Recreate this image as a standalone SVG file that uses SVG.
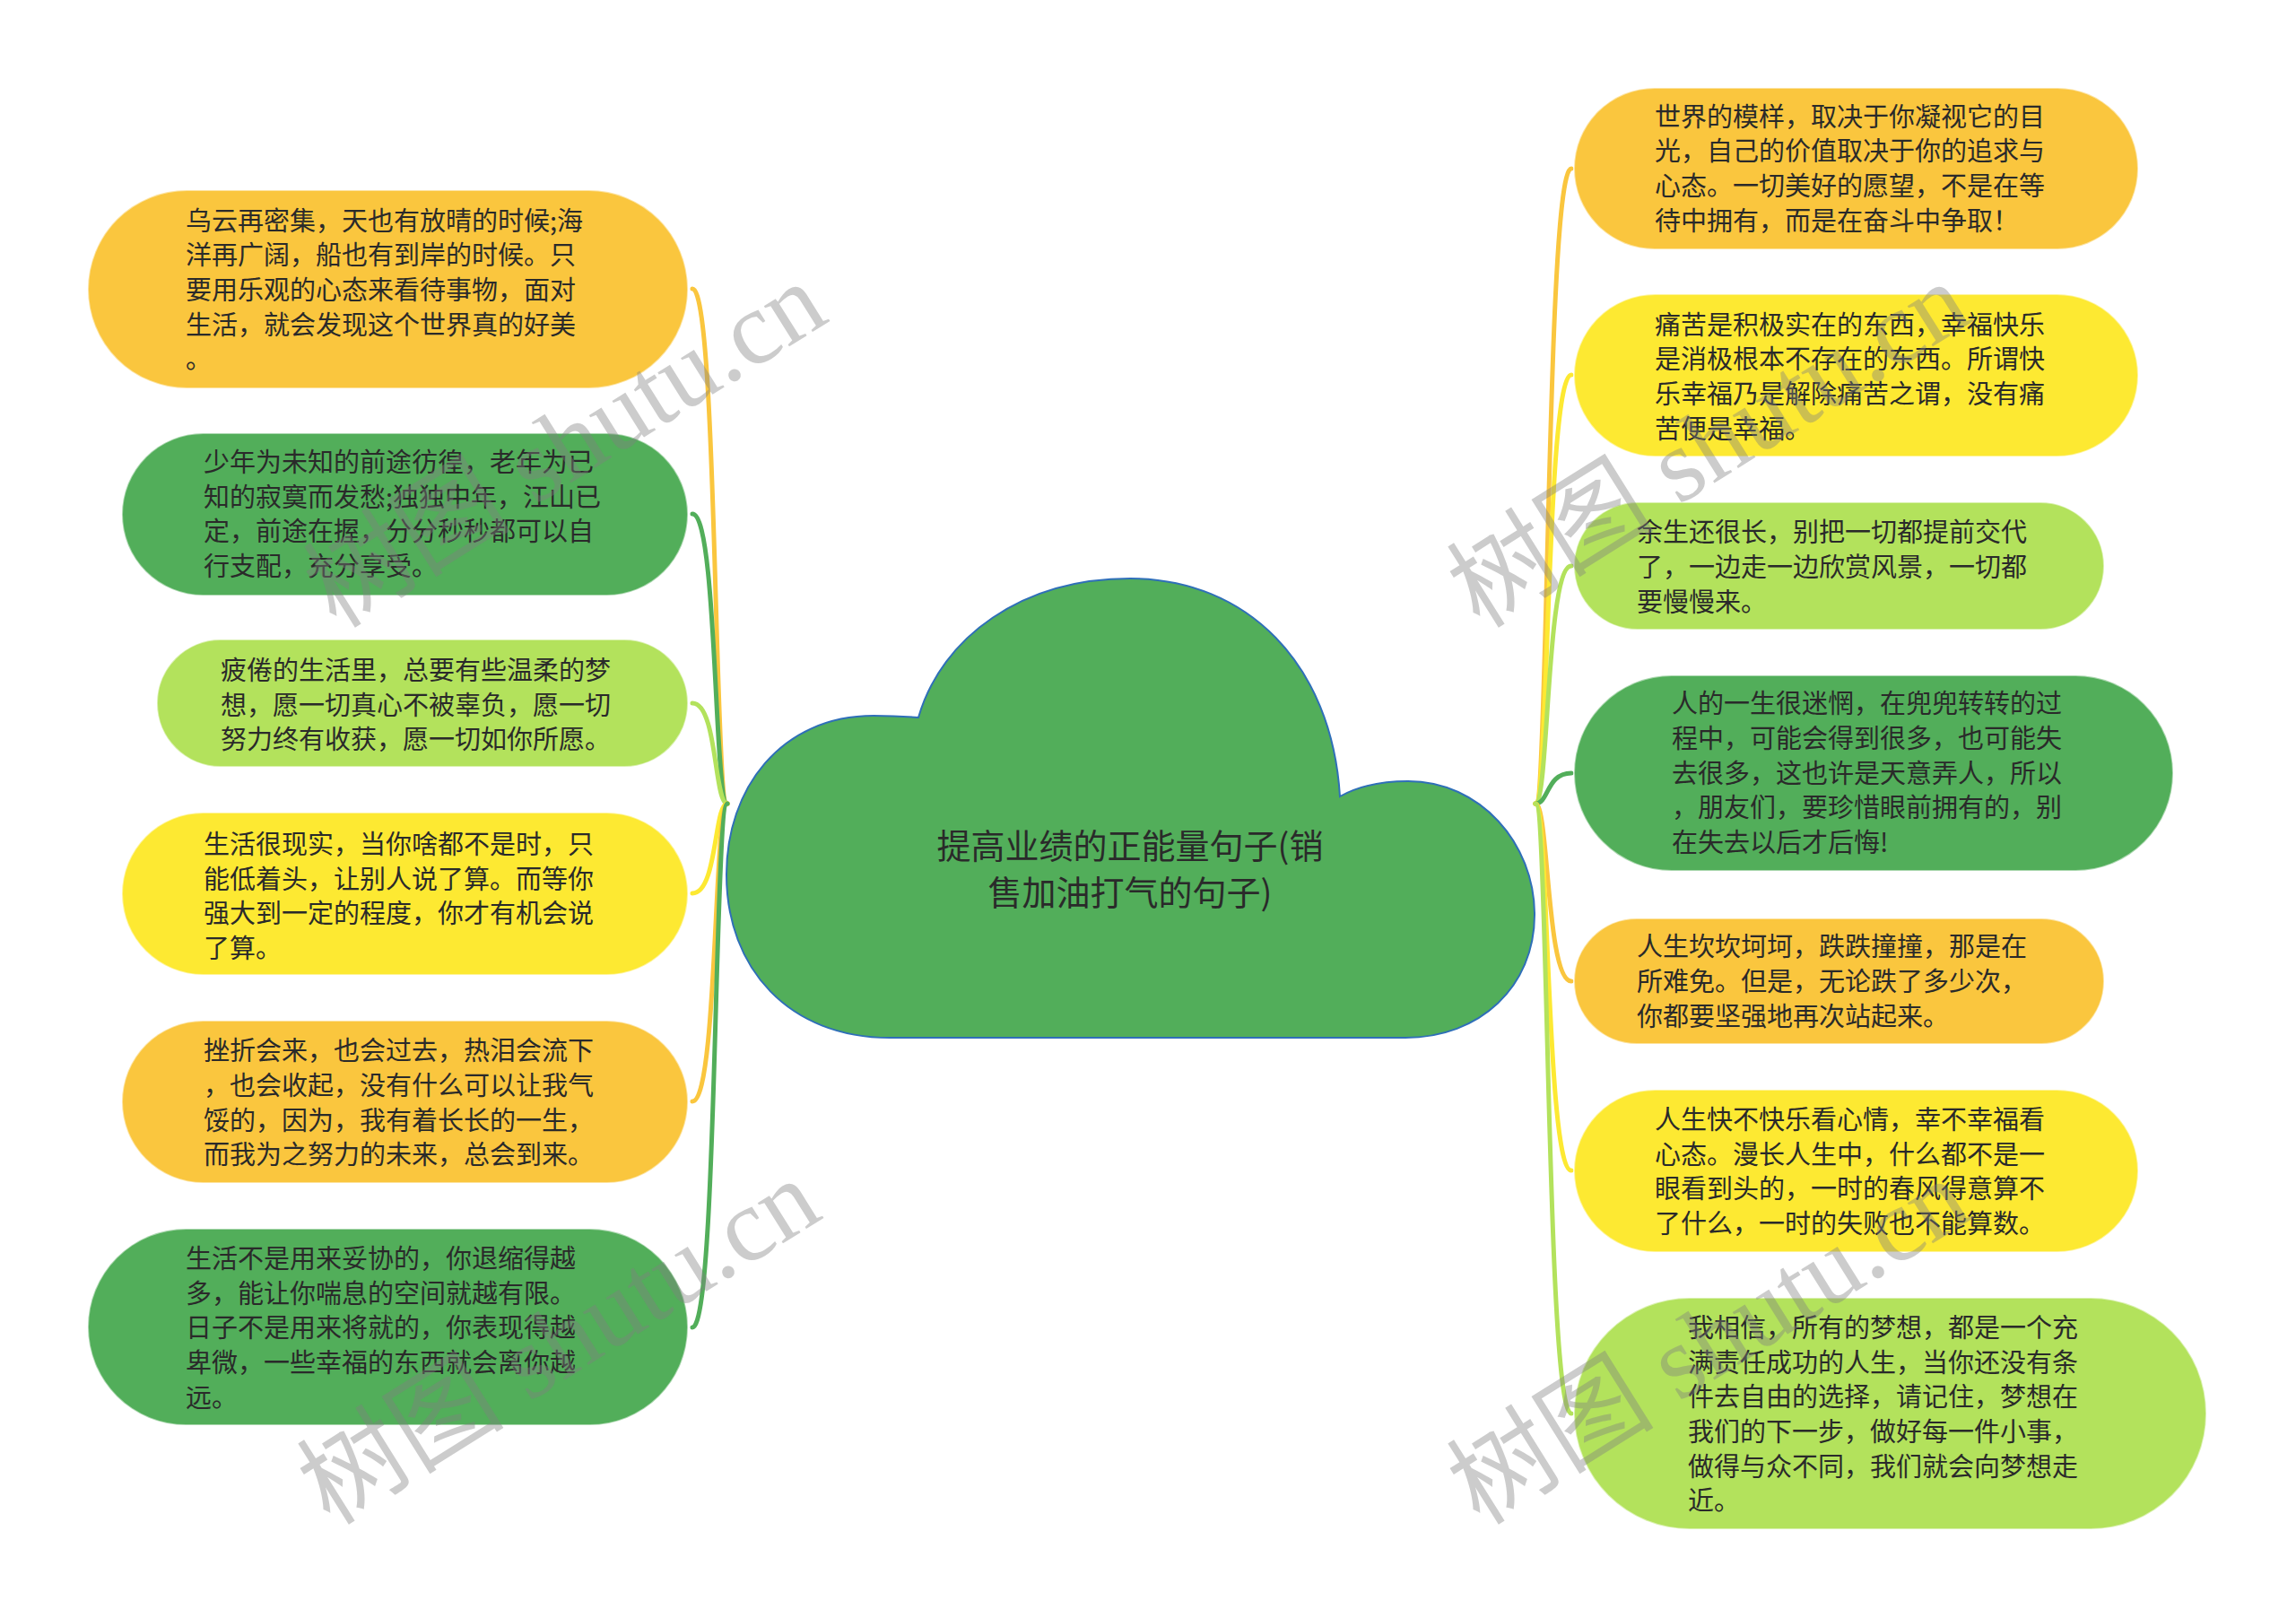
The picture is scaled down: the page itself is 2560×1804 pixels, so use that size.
<svg xmlns="http://www.w3.org/2000/svg" width="2560" height="1804" viewBox="0 0 2560 1804">
<style>
.t{font-family:"Noto Sans CJK SC","Noto Sans",sans-serif;font-size:29px;fill:#2a2a2a}
.ct{font-family:"Noto Sans CJK SC","Noto Sans",sans-serif;font-size:38px;fill:#2a2a2a;text-anchor:middle}
.or{fill:#FAC63E}
.ye{fill:#FDE932}
.lg{fill:#B3E25C}
.dg{fill:#52AE5A}
.node rect{stroke:#ffffff;stroke-opacity:0.5;stroke-width:2}
.c{fill:none;stroke-width:5;stroke-linecap:round}
.wm{font-size:116px;fill:#808080;fill-opacity:0.4}
.wm1{font-family:"Noto Sans CJK SC",sans-serif}
.wm2{font-family:"Liberation Serif",serif}
</style>
<rect width="2560" height="1804" fill="#ffffff"/>

<g id="connectors">
<path class="c" stroke="#FAC63E" d="M811 896 C796 896 800 322 772 322"/>
<path class="c" stroke="#52AE5A" d="M811 896 C796 896 800 573 772 573"/>
<path class="c" stroke="#B3E25C" d="M811 896 C796 896 800 784 772 784"/>
<path class="c" stroke="#FDE932" d="M811 896 C796 896 800 996 772 996"/>
<path class="c" stroke="#FAC63E" d="M811 896 C796 896 800 1228 772 1228"/>
<path class="c" stroke="#52AE5A" d="M811 896 C796 896 800 1480 772 1480"/>

<path class="c" stroke="#FAC63E" d="M1712 896 C1727 896 1724 188 1752 188"/>
<path class="c" stroke="#FDE932" d="M1712 896 C1727 896 1724 418 1752 418"/>
<path class="c" stroke="#B3E25C" d="M1712 896 C1727 896 1724 631 1752 631"/>
<path class="c" stroke="#52AE5A" d="M1712 896 C1727 896 1724 862 1752 862"/>
<path class="c" stroke="#FAC63E" d="M1712 896 C1727 896 1724 1094 1752 1094"/>
<path class="c" stroke="#FDE932" d="M1712 896 C1727 896 1724 1305 1752 1305"/>
<path class="c" stroke="#B3E25C" d="M1712 896 C1727 896 1724 1576 1752 1576"/>
</g>

<g id="center">
<path d="M1024 800 C1050 710 1140 645 1260 645 C1390 645 1485 740 1494 888 C1515 876 1540 871 1570 871 C1650 871 1711 940 1711 1020 C1711 1100 1650 1157 1567 1157 L992 1157 C880 1157 810 1080 810 975 C810 880 870 798 974 798 C995 798 1012 799 1024 800 Z" fill="#52AE5A" stroke="#2F6FB8" stroke-width="2"/>
<text class="ct" x="1260" y="957">提高业绩的正能量句子(销</text>
<text class="ct" x="1260" y="1009">售加油打气的句子)</text>
</g>

<g id="L1" class="node">
<rect class="or" x="98" y="212" width="669" height="221" rx="110.5"/>
<text class="t" x="207" y="256.5">乌云再密集，天也有放晴的时候;海</text>
<text class="t" x="207" y="295.2">洋再广阔，船也有到岸的时候。只</text>
<text class="t" x="207" y="333.9">要用乐观的心态来看待事物，面对</text>
<text class="t" x="207" y="372.6">生活，就会发现这个世界真的好美</text>
<text class="t" x="207" y="411.3">。</text>
</g>
<g id="L2" class="node">
<rect class="dg" x="136" y="483" width="631" height="181" rx="90.5"/>
<text class="t" x="227" y="526">少年为未知的前途彷徨，老年为已</text>
<text class="t" x="227" y="564.7">知的寂寞而发愁;独独中年，江山已</text>
<text class="t" x="227" y="603.4">定，前途在握，分分秒秒都可以自</text>
<text class="t" x="227" y="642.1">行支配，充分享受。</text>
</g>
<g id="L3" class="node">
<rect class="lg" x="175" y="713" width="592" height="142" rx="71"/>
<text class="t" x="246" y="757.8">疲倦的生活里，总要有些温柔的梦</text>
<text class="t" x="246" y="796.5">想，愿一切真心不被辜负，愿一切</text>
<text class="t" x="246" y="835.2">努力终有收获，愿一切如你所愿。</text>
</g>
<g id="L4" class="node">
<rect class="ye" x="136" y="906" width="631" height="181" rx="90.5"/>
<text class="t" x="227" y="952">生活很现实，当你啥都不是时，只</text>
<text class="t" x="227" y="990.7">能低着头，让别人说了算。而等你</text>
<text class="t" x="227" y="1029.4">强大到一定的程度，你才有机会说</text>
<text class="t" x="227" y="1068.1">了算。</text>
</g>
<g id="L5" class="node">
<rect class="or" x="136" y="1138" width="631" height="181" rx="90.5"/>
<text class="t" x="227" y="1182.3">挫折会来，也会过去，热泪会流下</text>
<text class="t" x="227" y="1221">，也会收起，没有什么可以让我气</text>
<text class="t" x="227" y="1259.7">馁的，因为，我有着长长的一生，</text>
<text class="t" x="227" y="1298.4">而我为之努力的未来，总会到来。</text>
</g>
<g id="L6" class="node">
<rect class="dg" x="98" y="1370" width="669" height="219" rx="109.5"/>
<text class="t" x="207" y="1414">生活不是用来妥协的，你退缩得越</text>
<text class="t" x="207" y="1452.7">多，能让你喘息的空间就越有限。</text>
<text class="t" x="207" y="1491.4">日子不是用来将就的，你表现得越</text>
<text class="t" x="207" y="1530.1">卑微，一些幸福的东西就会离你越</text>
<text class="t" x="207" y="1568.8">远。</text>
</g>

<g id="R1" class="node">
<rect class="or" x="1755" y="98" width="629" height="180" rx="90"/>
<text class="t" x="1845" y="140.6">世界的模样，取决于你凝视它的目</text>
<text class="t" x="1845" y="179.3">光，自己的价值取决于你的追求与</text>
<text class="t" x="1845" y="218">心态。一切美好的愿望，不是在等</text>
<text class="t" x="1845" y="256.7">待中拥有，而是在奋斗中争取！</text>
</g>
<g id="R2" class="node">
<rect class="ye" x="1755" y="328" width="629" height="181" rx="90.5"/>
<text class="t" x="1845" y="372.5">痛苦是积极实在的东西，幸福快乐</text>
<text class="t" x="1845" y="411.2">是消极根本不存在的东西。所谓快</text>
<text class="t" x="1845" y="449.9">乐幸福乃是解除痛苦之谓，没有痛</text>
<text class="t" x="1845" y="488.6">苦便是幸福。</text>
</g>
<g id="R3" class="node">
<rect class="lg" x="1755" y="560" width="591" height="142" rx="71"/>
<text class="t" x="1825" y="604.3">余生还很长，别把一切都提前交代</text>
<text class="t" x="1825" y="643">了，一边走一边欣赏风景，一切都</text>
<text class="t" x="1825" y="681.7">要慢慢来。</text>
</g>
<g id="R4" class="node">
<rect class="dg" x="1755" y="753" width="668" height="218" rx="109"/>
<text class="t" x="1864" y="795.3">人的一生很迷惘，在兜兜转转的过</text>
<text class="t" x="1864" y="834">程中，可能会得到很多，也可能失</text>
<text class="t" x="1864" y="872.7">去很多，这也许是天意弄人，所以</text>
<text class="t" x="1864" y="911.4">，朋友们，要珍惜眼前拥有的，别</text>
<text class="t" x="1864" y="950.1">在失去以后才后悔!</text>
</g>
<g id="R5" class="node">
<rect class="or" x="1755" y="1024" width="591" height="140" rx="70"/>
<text class="t" x="1825" y="1066.4">人生坎坎坷坷，跌跌撞撞，那是在</text>
<text class="t" x="1825" y="1105.1">所难免。但是，无论跌了多少次，</text>
<text class="t" x="1825" y="1143.8">你都要坚强地再次站起来。</text>
</g>
<g id="R6" class="node">
<rect class="ye" x="1755" y="1215" width="629" height="181" rx="90.5"/>
<text class="t" x="1845" y="1259">人生快不快乐看心情，幸不幸福看</text>
<text class="t" x="1845" y="1297.7">心态。漫长人生中，什么都不是一</text>
<text class="t" x="1845" y="1336.4">眼看到头的，一时的春风得意算不</text>
<text class="t" x="1845" y="1375.1">了什么，一时的失败也不能算数。</text>
</g>
<g id="R7" class="node">
<rect class="lg" x="1755" y="1447" width="705" height="258" rx="129"/>
<text class="t" x="1882" y="1490.9">我相信，所有的梦想，都是一个充</text>
<text class="t" x="1882" y="1529.6">满责任成功的人生，当你还没有条</text>
<text class="t" x="1882" y="1568.3">件去自由的选择，请记住，梦想在</text>
<text class="t" x="1882" y="1607">我们的下一步，做好每一件小事，</text>
<text class="t" x="1882" y="1645.7">做得与众不同，我们就会向梦想走</text>
<text class="t" x="1882" y="1684.4">近。</text>
</g>

<g id="watermarks">
<text class="wm" transform="rotate(-32 375 702)" x="375" y="702"><tspan class="wm1">树图</tspan><tspan class="wm2"> shutu.cn</tspan></text>
<text class="wm" transform="rotate(-32 1650 702)" x="1650" y="702"><tspan class="wm1">树图</tspan><tspan class="wm2"> shutu.cn</tspan></text>
<text class="wm" transform="rotate(-32 368 1702)" x="368" y="1702"><tspan class="wm1">树图</tspan><tspan class="wm2"> shutu.cn</tspan></text>
<text class="wm" transform="rotate(-32 1650 1702)" x="1650" y="1702"><tspan class="wm1">树图</tspan><tspan class="wm2"> shutu.cn</tspan></text>
</g>
</svg>
